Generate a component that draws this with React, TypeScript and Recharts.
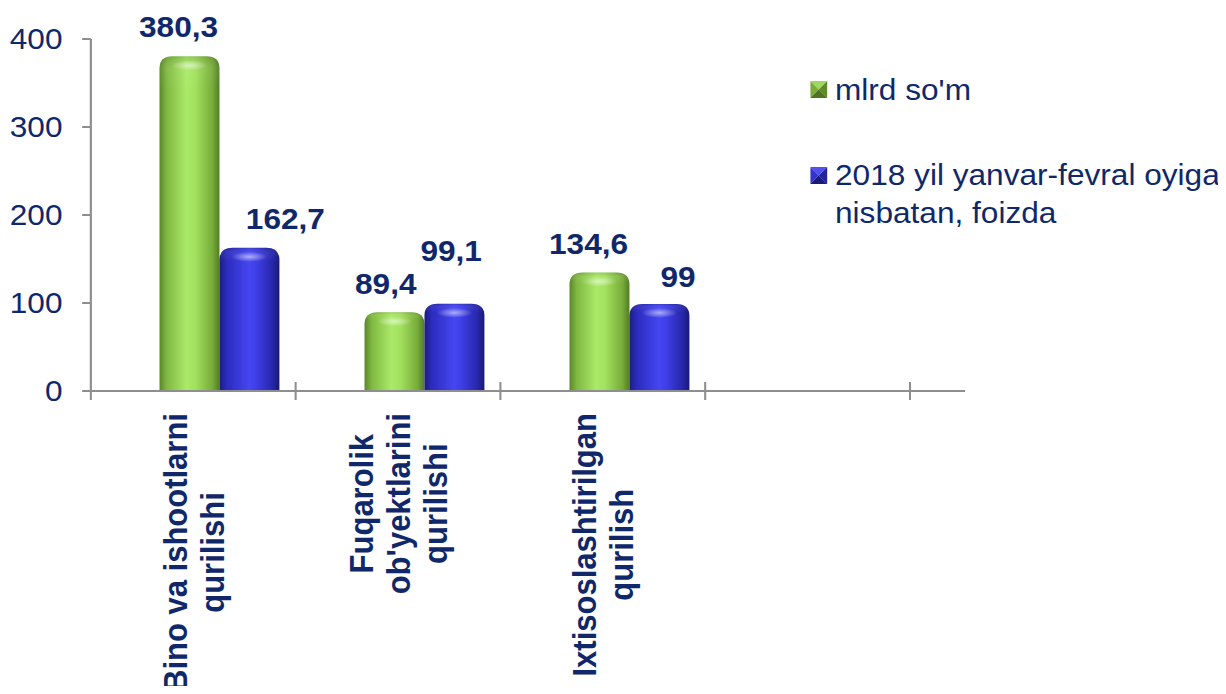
import React from "react";
import { BarChart, Bar, XAxis, YAxis, Legend, LabelList } from "recharts";

// ---------- data ----------
const categories = [
  "Bino va ishootlarni qurilishi",
  "Fuqarolik ob'yektlarini qurilishi",
  "Ixtisoslashtirilgan qurilish",
  "",
];
const categoryLines = [
  ["Bino va ishootlarni", "qurilishi"],
  ["Fuqarolik", "ob'yektlarini", "qurilishi"],
  ["Ixtisoslashtirilgan", "qurilish"],
  [],
];
const mlrdSom = [380.3, 89.4, 134.6, null];
const foizda = [162.7, 99.1, 99, null];
const yTicks = [0, 100, 200, 300, 400];
const gridTicks = [0, 0.5, 1, 1.5, 2, 2.5, 3, 3.5, 4];
const seriesNames = ["mlrd so'm", "2018 yil yanvar-fevral oyiga nisbatan, foizda"];
const legendLines = [["mlrd so'm"], ["2018 yil yanvar-fevral oyiga", "nisbatan, foizda"]];

// label nudges (style only)
const greenNudge = [
  { dx: -10, dy: 0 },
  { dx: -8, dy: 1 },
  { dx: -10, dy: 0 },
];
const blueNudge = [
  { dx: 33, dy: 0 },
  { dx: -3, dy: -24 },
  { dx: 17, dy: 2 },
];

const data = categories.map((name, i) => ({
  name,
  pos: i + 0.5,
  mlrd: mlrdSom[i],
  foiz: foizda[i],
}));

// ---------- styles ----------
const FONT = "'Liberation Sans', Arial, sans-serif";
const NAVY = "#10286a";
const AXIS = "#8e8e8e";
const SX = 1.09;

const fmt = (v: number) => String(v).replace(".", ",");

let ctx: CanvasRenderingContext2D | null = null;
function measure(text: string, font: string) {
  if (!ctx) ctx = document.createElement("canvas").getContext("2d");
  if (!ctx) return text.length * 16;
  ctx.font = font;
  return ctx.measureText(text).width;
}

const CAT_FS = 31;
const CAT_LH = 34;

const GridTick = (props: any) => {
  const { x, y, payload } = props;
  const v = Number(payload.value);
  if (Number.isInteger(v)) {
    return (
      <line
        x1={x}
        x2={x}
        y1={v === 0 ? y : y - 9}
        y2={y + 9}
        stroke={AXIS}
        strokeWidth={1.9}
      />
    );
  }
  const lines = categoryLines[Math.floor(v)] || [];
  if (!lines.length) return null;
  const font = `bold ${CAT_FS}px 'Liberation Sans'`;
  const lmax = Math.max(...lines.map((l) => measure(l, font)));
  const n = lines.length;
  return (
    <g transform={`translate(${x},${y}) rotate(-90)`}>
      {lines.map((l, i) => (
        <text
          key={i}
          x={-(22 + lmax / 2)}
          y={(i - (n - 1) / 2) * CAT_LH + 0.36 * CAT_FS}
          textAnchor="middle"
          fontFamily={FONT}
          fontWeight="bold"
          fontSize={CAT_FS}
          fill={NAVY}
        >
          {l}
        </text>
      ))}
    </g>
  );
};

const CylBar = (props: any) => {
  const { x, y, width, height, gradId } = props;
  if (!height || height <= 0) return null;
  const r = Math.min(12, width / 2, height);
  const d = `M${x},${y + height} L${x},${y + r} Q${x},${y} ${x + r},${y} L${x + width - r},${y} Q${x + width},${y} ${x + width},${y + r} L${x + width},${y + height} Z`;
  return (
    <g>
      <path d={d} fill={`url(#${gradId})`} />
      <path d={d} fill="url(#topShade)" />
      <ellipse
        cx={x + width * 0.5}
        cy={y + 9}
        rx={width * 0.3}
        ry={5}
        fill="url(#hilite)"
      />
    </g>
  );
};

const makeLabel = (nudges: { dx: number; dy: number }[]) => (props: any) => {
  const { x, y, width, value, index } = props;
  if (value == null) return null;
  const nd = nudges[index] || { dx: 0, dy: 0 };
  return (
    <text
      x={Number(x) + Number(width) / 2 + nd.dx}
      y={Number(y) - 19 + nd.dy}
      textAnchor="middle"
      fontFamily={FONT}
      fontWeight="bold"
      fontSize={29}
      fill={NAVY}
    >
      {fmt(value)}
    </text>
  );
};

const LegendIcon = ({ i }: { i: number }) => {
  const c =
    i === 0
      ? { t: "#9fd860", l: "#7aab3c", r: "#5e8a2a", b: "#4d7322" }
      : { t: "#5050f0", l: "#3434c8", r: "#22229a", b: "#1a1a7a" };
  const w = 15.6;
  const h = 17;
  return (
    <svg width={w} height={h} style={{ display: "block" }}>
      <polygon points={`0,0 ${w},0 ${w / 2},${h / 2}`} fill={c.t} />
      <polygon points={`0,0 0,${h} ${w / 2},${h / 2}`} fill={c.l} />
      <polygon points={`${w},0 ${w},${h} ${w / 2},${h / 2}`} fill={c.r} />
      <polygon points={`0,${h} ${w},${h} ${w / 2},${h / 2}`} fill={c.b} />
    </svg>
  );
};

const LegendContent = (props: any) => {
  const payload = props.payload || [];
  return (
    <div style={{ fontFamily: FONT, fontSize: 29, color: NAVY, lineHeight: "38px", whiteSpace: "nowrap" }}>
      {payload.map((p: any, i: number) => (
        <div
          key={i}
          style={{ display: "flex", alignItems: "flex-start", marginBottom: i === 0 ? 47.7 : 0 }}
        >
          <div style={{ width: 22.3, paddingTop: 10.5 }}>
            <LegendIcon i={i} />
          </div>
          <div>
            {(legendLines[i] || [p.value]).map((l, k) => (
              <div key={k}>{l}</div>
            ))}
          </div>
        </div>
      ))}
    </div>
  );
};

export default function App() {
  return (
    <div style={{ width: 1218, height: 686, overflow: "hidden", marginBottom: -8 }}>
      <div style={{ width: 1116, height: 686, transform: `scaleX(${SX})`, transformOrigin: "0 0" }}>
        <BarChart
          width={1116}
          height={686}
          data={data}
          margin={{ top: 31, right: 238, bottom: 0, left: 0 }}
          barGap={0}
        >
          <defs>
            <linearGradient id="gGreen" x1="0" y1="0" x2="1" y2="0">
              <stop offset="0%" stopColor="#5a8728" />
              <stop offset="12%" stopColor="#80b842" />
              <stop offset="45%" stopColor="#aaea68" />
              <stop offset="60%" stopColor="#a2e05e" />
              <stop offset="88%" stopColor="#78ac3a" />
              <stop offset="100%" stopColor="#527c24" />
            </linearGradient>
            <linearGradient id="gBlue" x1="0" y1="0" x2="1" y2="0">
              <stop offset="0%" stopColor="#1c1c82" />
              <stop offset="12%" stopColor="#2b2bbd" />
              <stop offset="50%" stopColor="#4646f2" />
              <stop offset="62%" stopColor="#3e3ee4" />
              <stop offset="88%" stopColor="#2727ac" />
              <stop offset="100%" stopColor="#191974" />
            </linearGradient>
            <linearGradient id="topShade" x1="0" y1="0" x2="0" y2="1" gradientUnits="objectBoundingBox">
              <stop offset="0%" stopColor="#000" stopOpacity={0.12} />
              <stop offset="4%" stopColor="#fff" stopOpacity={0.05} />
              <stop offset="10%" stopColor="#fff" stopOpacity={0} />
              <stop offset="100%" stopColor="#fff" stopOpacity={0} />
            </linearGradient>
            <radialGradient id="hilite">
              <stop offset="0%" stopColor="#ffffff" stopOpacity={0.55} />
              <stop offset="100%" stopColor="#ffffff" stopOpacity={0} />
            </radialGradient>
          </defs>
          <XAxis
            xAxisId="bars"
            dataKey="name"
            type="category"
            hide
            height={0}
            padding={{ left: 24, right: 25.7 }}
          />
          <XAxis
            xAxisId="grid"
            dataKey="pos"
            type="number"
            domain={[0, 4]}
            ticks={gridTicks}
            allowDataOverflow
            interval={0}
            height={303}
            padding={{ left: 0, right: 50.5 }}
            axisLine={{ stroke: AXIS, strokeWidth: 2 }}
            tickLine={false}
            tickSize={0}
            tickMargin={0}
            tick={<GridTick />}
          />
          <YAxis
            domain={[0, 400]}
            ticks={yTicks}
            width={76}
            axisLine={{ stroke: AXIS, strokeWidth: 2 }}
            tickLine={{ stroke: AXIS, strokeWidth: 2 }}
            tickSize={8}
            tickMargin={18}
            tick={{ fill: NAVY, fontSize: 29, fontFamily: FONT }}
            interval={0}
          />
          <Legend
            layout="vertical"
            align="center"
            verticalAlign="middle"
            wrapperStyle={{ left: 736.4, top: 62.7, width: 378 }}
            content={<LegendContent />}
          />
          <Bar
            xAxisId="bars"
            dataKey="mlrd"
            name={seriesNames[0]}
            fill="#8cc64c"
            barSize={55}
            isAnimationActive={false}
            shape={<CylBar gradId="gGreen" />}
          >
            <LabelList dataKey="mlrd" content={makeLabel(greenNudge)} />
          </Bar>
          <Bar
            xAxisId="bars"
            dataKey="foiz"
            name={seriesNames[1]}
            fill="#3a3ad8"
            barSize={55}
            isAnimationActive={false}
            shape={<CylBar gradId="gBlue" />}
          >
            <LabelList dataKey="foiz" content={makeLabel(blueNudge)} />
          </Bar>
        </BarChart>
      </div>
    </div>
  );
}
